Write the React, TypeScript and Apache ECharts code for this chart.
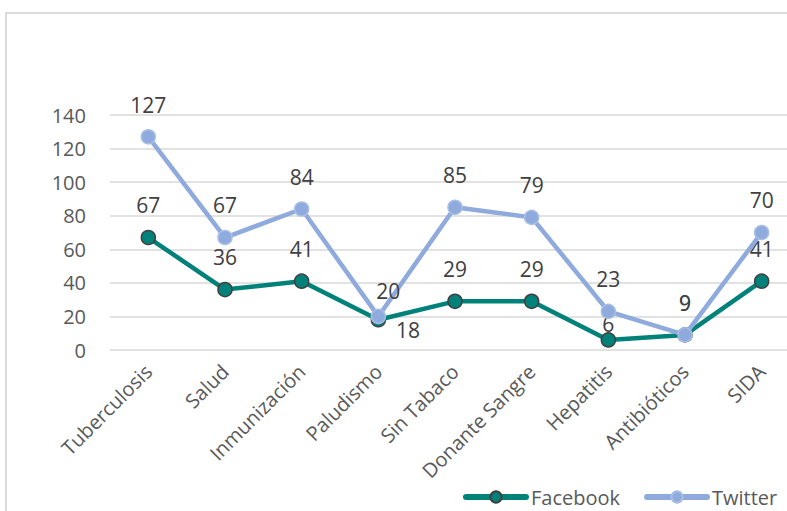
import React, { useEffect, useRef } from "react";
import * as echarts from "echarts";

const categories = ["Tuberculosis", "Salud", "Inmunización", "Paludismo", "Sin Tabaco", "Donante Sangre", "Hepatitis", "Antibióticos", "SIDA"];
const facebook = [67, 36, 41, 18, 29, 29, 6, 9, 41];
const twitter = [127, 67, 84, 20, 85, 79, 23, 9, 70];
const yTicks = { min: 0, max: 140, interval: 20 };

const FONT = "'Open Sans', 'Liberation Sans', sans-serif";
const FB = "#00827a";
const TW = "#8faadc";

export default function App() {
  const ref = useRef<HTMLDivElement>(null);
  useEffect(() => {
    document.body.style.margin = "0";
    const chart = echarts.init(ref.current!, null, { renderer: "svg" });
    chart.setOption({
      animation: false,
      backgroundColor: "#ffffff",
      graphic: [
        {
          type: "rect",
          shape: { x: 6, y: 13, width: 900, height: 600 },
          style: { fill: "none", stroke: "#d0d0d0", lineWidth: 1.5 },
          z: -1,
        },
      ],
      grid: { left: 110, top: 115, width: 690, height: 235, outerBoundsMode: "none", containLabel: false },
      legend: {
        left: 458,
        top: 482,
        itemWidth: 60,
        itemHeight: 14,
        itemGap: 24,
        textStyle: { fontFamily: FONT, fontSize: 20, color: "#595959" },
        data: [
          { name: "Facebook", lineStyle: { width: 6, cap: "round" } },
          { name: "Twitter", lineStyle: { width: 6, cap: "round" } },
        ],
      },
      xAxis: {
        type: "category",
        data: categories,
        boundaryGap: true,
        axisLine: { show: false },
        axisTick: { show: false },
        axisLabel: { rotate: 45, margin: 18, fontFamily: FONT, fontSize: 20, color: "#595959", interval: 0 },
      },
      yAxis: {
        type: "value",
        min: yTicks.min,
        max: yTicks.max,
        interval: yTicks.interval,
        axisLine: { show: false },
        axisTick: { show: false },
        axisLabel: { margin: 24, fontFamily: FONT, fontSize: 20, color: "#595959" },
        splitLine: { lineStyle: { color: "#d9d9d9", width: 1.5 } },
      },
      series: [
        {
          name: "Facebook",
          type: "line",
          data: facebook.map((v, i) =>
            i === 3
              ? { value: v, label: { position: "right", distance: 10, offset: [0, 10] } }
              : i === 6
              ? { value: v, label: { distance: -2 } }
              : { value: v }
          ),
          symbol: "circle",
          symbolSize: 14,
          lineStyle: { color: FB, width: 4.5 },
          itemStyle: { color: FB, borderColor: "#404040", borderWidth: 1.5 },
          label: { show: true, position: "top", distance: 14, fontFamily: FONT, fontSize: 21, color: "#404040" },
          z: 2,
        },
        {
          name: "Twitter",
          type: "line",
          data: twitter.map((v, i) =>
            i === 3 ? { value: v, label: { offset: [10, 7] } } : { value: v }
          ),
          symbol: "circle",
          symbolSize: 14,
          lineStyle: { color: TW, width: 4.5 },
          itemStyle: { color: TW, borderColor: "#a9bfe6", borderWidth: 1.5 },
          label: { show: true, position: "top", distance: 14, fontFamily: FONT, fontSize: 21, color: "#404040" },
          z: 3,
        },
      ],
    });
    return () => chart.dispose();
  }, []);
  return <div ref={ref} style={{ width: 787, height: 511 }} />;
}
